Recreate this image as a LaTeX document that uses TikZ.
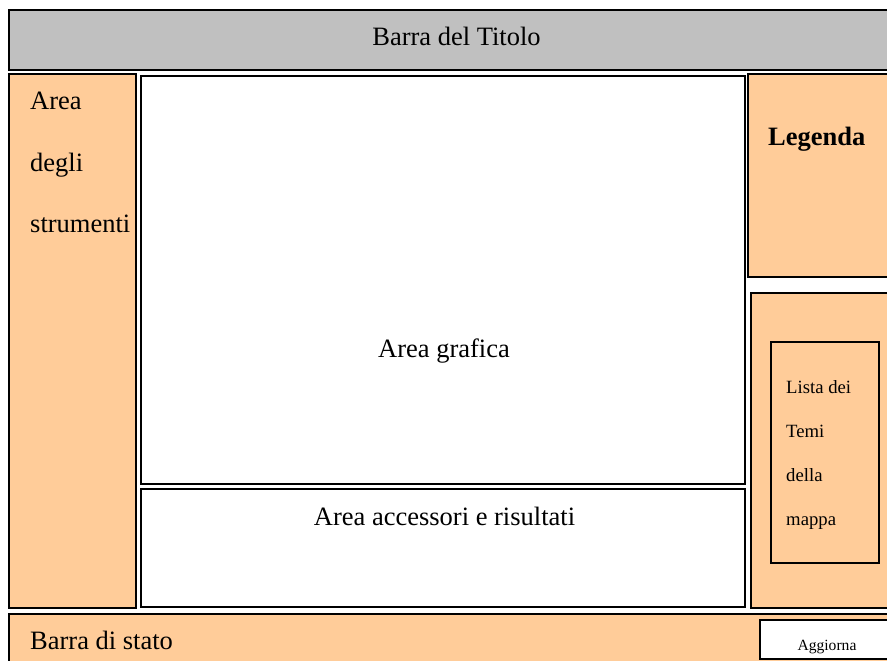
\documentclass[tikz,border=0pt]{standalone}
\usepackage{fontspec}
\setmainfont{Liberation Serif}
\definecolor{peach}{HTML}{FFCC99}
\definecolor{bargrey}{HTML}{C0C0C0}
\begin{document}
\begin{tikzpicture}[x=1pt,y=-1pt,
  panel/.style={draw=black,line width=2pt},
  big/.style={inner sep=0pt,font=\fontsize{26.5}{30}\selectfont},
  small/.style={inner sep=0pt,font=\fontsize{18.7}{22}\selectfont},
  tiny/.style={inner sep=0pt,font=\fontsize{15.6}{18}\selectfont}]
\useasboundingbox (0,0) rectangle (887,661);
\clip (0,0) rectangle (887,661);
% panels
\draw[panel,fill=bargrey] (9,10) rectangle (895,70);
\draw[panel,fill=peach] (9,74) rectangle (136,608);
\draw[panel,fill=white] (141,76) rectangle (745,484);
\draw[panel,fill=white] (141,489) rectangle (745,607);
\draw[panel,fill=peach] (748,74) rectangle (895,277);
\draw[panel,fill=peach] (751,293) rectangle (895,608);
\draw[draw=black,line width=1.3pt] (771,342) rectangle (879,563);
\draw[panel,fill=peach] (9,614) rectangle (895,670);
\draw[panel,fill=white] (760,620) rectangle (895,659);
% texts
\node[big,anchor=base] (title) at (456.5,46) {Barra del Titolo};
\node[big,anchor=base west] (t1) at (30,110) {Area};
\node[big,anchor=base west] (t2) at (30,171) {degli};
\node[big,anchor=base west] (t3) at (30,232) {strumenti};
\node[big,anchor=base] (graf) at (444,357) {Area grafica};
\node[big,anchor=base] (acc) at (444.5,525) {Area accessori e risultati};
\node[big,anchor=base west,font=\fontsize{26.5}{30}\selectfont\bfseries] (leg) at (768,146) {Legenda};
\node[small,anchor=base west] (l1) at (786,393) {Lista dei};
\node[small,anchor=base west] (l2) at (786,437) {Temi};
\node[small,anchor=base west] (l3) at (786,481) {della};
\node[small,anchor=base west] (l4) at (786,525) {mappa};
\node[big,anchor=base west] (stato) at (30,649) {Barra di stato};
\node[tiny,anchor=base] (agg) at (827,650) {Aggiorna};
\end{tikzpicture}
\end{document}
